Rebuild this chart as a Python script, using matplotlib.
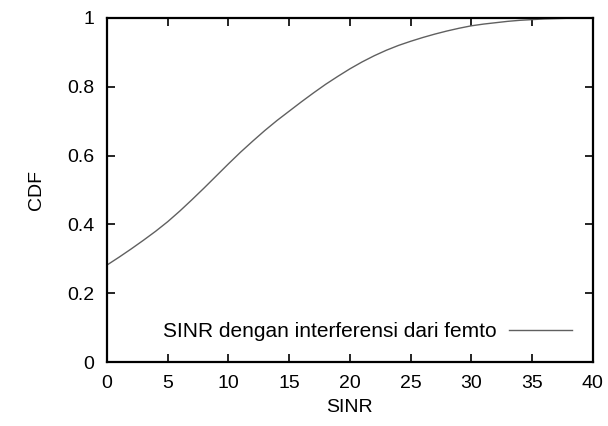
import matplotlib
matplotlib.use("Agg")
from matplotlib import pyplot as plt

plt.rcParams['font.family'] = ['Liberation Sans', 'DejaVu Sans']

sinr = list(range(0, 41))
cdf = [0.282, 0.305, 0.329, 0.354, 0.380, 0.408, 0.439, 0.472, 0.506, 0.541,
       0.576, 0.610, 0.642, 0.673, 0.702, 0.729, 0.756, 0.782, 0.807, 0.830,
       0.852, 0.872, 0.890, 0.906, 0.920, 0.932, 0.943, 0.953, 0.962, 0.970,
       0.977, 0.982, 0.986, 0.990, 0.993, 0.995, 0.997, 0.998, 0.999, 0.9995,
       1.0]
xticks = [0, 5, 10, 15, 20, 25, 30, 35, 40]
yticks = [0, 0.2, 0.4, 0.6, 0.8, 1]
ytick_labels = ['0', '0.2', '0.4', '0.6', '0.8', '1']

fig = plt.figure(figsize=(6.08, 4.26), dpi=100)
ax = fig.add_axes([0.176, 0.150, 0.799, 0.808])
ax.plot(sinr, cdf, color='#606060', lw=1.0, label='SINR dengan interferensi dari femto')
ax.set_xlim(0, 40)
ax.set_ylim(0, 1)
ax.set_xticks(xticks)
ax.set_yticks(yticks)
ax.set_yticklabels(ytick_labels)
ax.tick_params(direction='in', length=6, width=1.2, top=True, right=True,
               labelsize=14, pad=9)
for s in ax.spines.values():
    s.set_linewidth(1.6)
ax.set_xlabel('SINR', fontsize=14, labelpad=5)
ax.set_ylabel('CDF', fontsize=14, labelpad=16)
ax.legend(loc='lower right', frameon=False, markerfirst=False, fontsize=15,
          handlelength=3.0, handletextpad=0.6, borderaxespad=1.0,
          borderpad=0.0)

fig.savefig('out.png', dpi=100)
